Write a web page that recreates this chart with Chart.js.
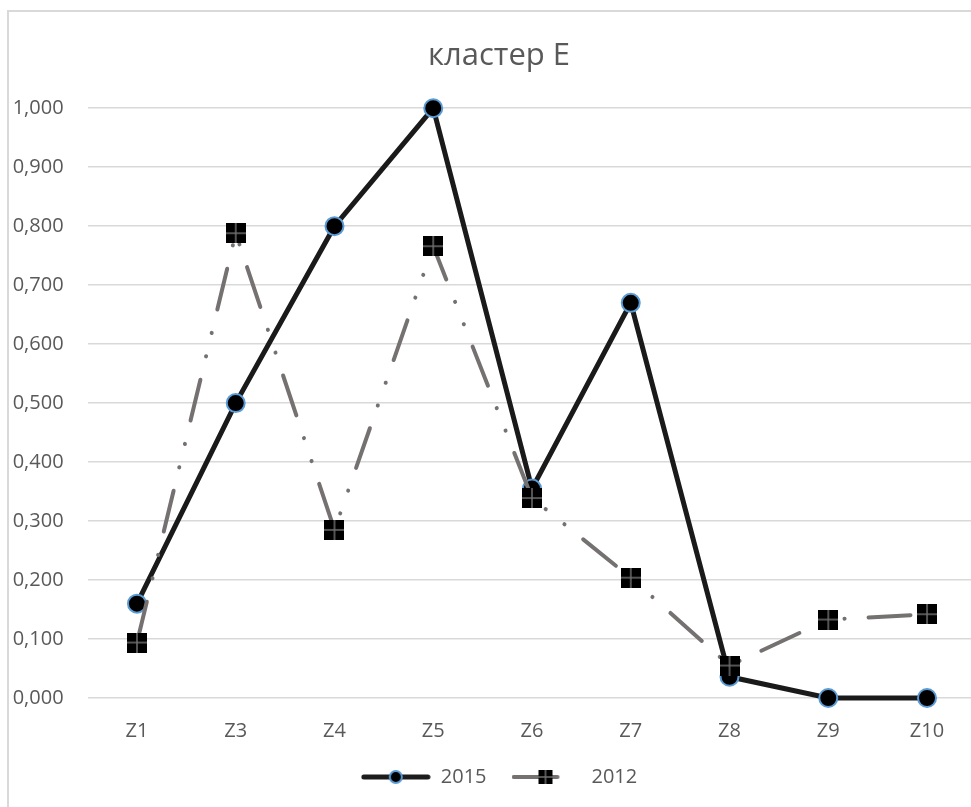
<!DOCTYPE html>
<html lang="ru">
<head>
  <meta charset="UTF-8">
  <title>кластер E</title>
  <script src="https://cdn.jsdelivr.net/npm/chart.js"></script>
  <style>
    html, body { margin: 0; padding: 0; background: #fff; overflow: hidden; }
    #frame {
      position: absolute; left: 7px; top: 10px;
      width: 1000px; height: 830px;
      border: 2px solid #d9d9d9;
    }
    /* холст чуть левее рамки, чтобы подписи оси не обрезались */
    #chart { position: absolute; left: -13px; top: 0; }
  </style>
</head>
<body>
  <div id="frame">
    <canvas id="chart" width="1006" height="785"></canvas>
  </div>

  <script>
    // данные с картинки
    const zones = ['Z1', 'Z3', 'Z4', 'Z5', 'Z6', 'Z7', 'Z8', 'Z9', 'Z10'];
    const values2015 = [0.160, 0.500, 0.800, 1.000, 0.355, 0.670, 0.036, 0.000, 0.000];
    const values2012 = [0.094, 0.788, 0.285, 0.766, 0.339, 0.204, 0.055, 0.133, 0.142];
    const seriesNames = ['2015', '2012'];

    const FONT = "'Open Sans', 'DejaVu Sans', sans-serif";
    const TEXT = '#595959';
    const GRAY_LINE = '#767171';

    // квадратный маркер с крестиком
    function squareMarker(size) {
      const c = document.createElement('canvas');
      c.width = size; c.height = size;
      const g = c.getContext('2d');
      g.fillStyle = '#000';
      g.fillRect(0, 0, size, size);
      g.strokeStyle = '#6f6f6f';
      g.lineWidth = 1.5;
      g.beginPath();
      g.moveTo(size / 2, 0); g.lineTo(size / 2, size);
      g.moveTo(0, size / 2); g.lineTo(size, size / 2);
      g.stroke();
      return c;
    }

    // значки легенды
    function legendIcon2015() {
      const c = document.createElement('canvas');
      c.width = 70; c.height = 20;
      const g = c.getContext('2d');
      g.strokeStyle = '#1c1c1c';
      g.lineWidth = 5;
      g.lineCap = 'round';
      g.beginPath(); g.moveTo(3, 10); g.lineTo(67, 10); g.stroke();
      g.fillStyle = '#000';
      g.strokeStyle = '#5b9bd5';
      g.lineWidth = 2;
      g.beginPath(); g.arc(35, 10, 6, 0, Math.PI * 2); g.fill(); g.stroke();
      return c;
    }

    function legendIcon2012() {
      const c = document.createElement('canvas');
      c.width = 70; c.height = 20;
      const g = c.getContext('2d');
      g.strokeStyle = GRAY_LINE;
      g.lineWidth = 4;
      g.lineCap = 'round';
      g.beginPath(); g.moveTo(2, 10); g.lineTo(46, 10); g.stroke();
      g.drawImage(squareMarker(14), 27, 3);
      return c;
    }

    const legendIcons = [legendIcon2015(), legendIcon2012()];

    new Chart(document.getElementById('chart').getContext('2d'), {
      type: 'line',
      data: {
        labels: zones,
        datasets: [
          {
            label: seriesNames[0],
            data: values2015,
            borderColor: '#1a1a1a',
            borderWidth: 5,
            pointRadius: 9,
            pointBorderWidth: 2,
            pointBackgroundColor: '#000',
            pointBorderColor: '#5b9bd5',
            tension: 0,
            clip: false,
            order: 1
          },
          {
            label: seriesNames[1],
            data: values2012,
            borderColor: GRAY_LINE,
            borderWidth: 4,
            borderCapStyle: 'round',
            borderDash: [42, 24, 0.1, 24, 0.1, 24],
            pointStyle: squareMarker(20),
            pointRadius: 10,
            tension: 0,
            clip: false,
            order: 0
          }
        ]
      },
      options: {
        responsive: false,
        animation: false,
        layout: { padding: 0 },
        plugins: {
          title: {
            display: true,
            text: 'кластер E',
            color: TEXT,
            font: { family: FONT, size: 31, weight: 'normal' },
            padding: { top: 26, bottom: 33 }
          },
          legend: {
            position: 'bottom',
            labels: {
              usePointStyle: true,
              pointStyleWidth: 70,
              padding: 25,
              color: TEXT,
              font: { family: FONT, size: 20 },
              generateLabels(chart) {
                const items = Chart.defaults.plugins.legend.labels.generateLabels(chart);
                items.sort((a, b) => a.datasetIndex - b.datasetIndex);
                items.forEach(it => { it.pointStyle = legendIcons[it.datasetIndex]; });
                return items;
              }
            }
          },
          tooltip: { enabled: false }
        },
        scales: {
          x: {
            offset: true,
            afterFit(scale) { scale.height -= 22; },
            grid: { display: false, drawTicks: false },
            border: { display: false },
            ticks: { color: TEXT, font: { family: FONT, size: 20 }, padding: 21 }
          },
          y: {
            min: 0,
            max: 1,
            afterFit(scale) { scale.width = 91.6; },
            grid: { color: '#d9d9d9', lineWidth: 1.5, drawTicks: false },
            border: { display: false },
            ticks: {
              stepSize: 0.1,
              padding: 24,
              color: TEXT,
              font: { family: FONT, size: 20 },
              callback: v => v.toFixed(3).replace('.', ',')
            }
          },
          // пустая ось справа: сдвигает область графика, легенда и заголовок остаются по центру
          yRight: {
            type: 'linear',
            position: 'right',
            afterFit(scale) { scale.width = 25.6; },
            grid: { display: false, drawTicks: false },
            border: { display: false },
            ticks: { display: false }
          }
        }
      }
    });
  </script>
</body>
</html>
